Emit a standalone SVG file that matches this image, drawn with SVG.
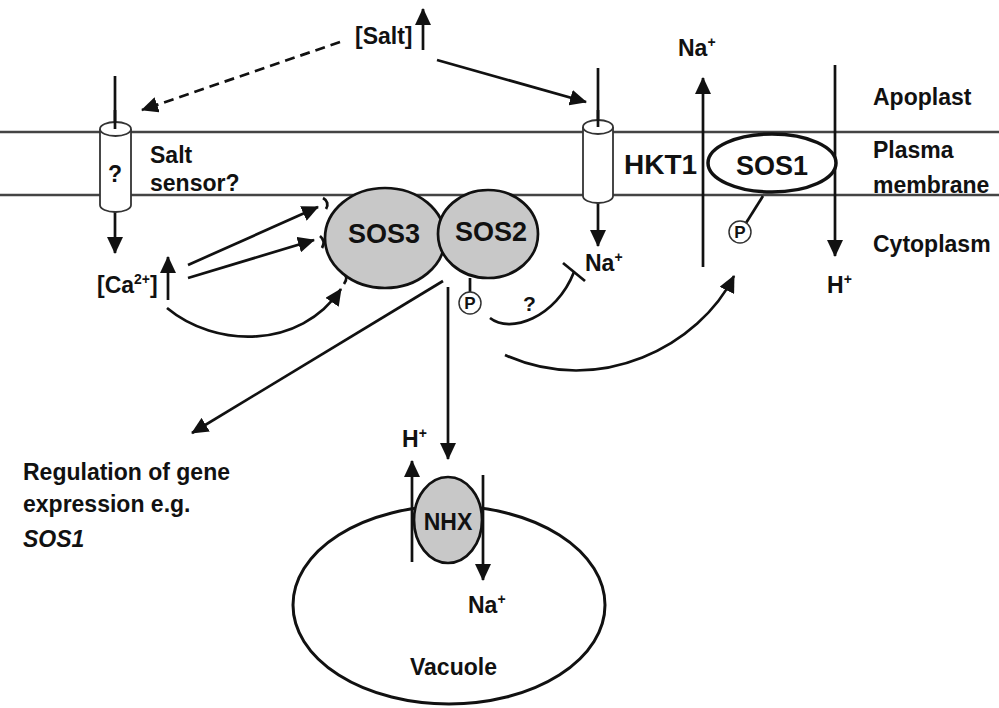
<svg xmlns="http://www.w3.org/2000/svg" width="999" height="708" viewBox="0 0 999 708">
<defs>
<marker id="ah" markerUnits="userSpaceOnUse" markerWidth="18" markerHeight="16" refX="16" refY="8" orient="auto">
<path d="M0,0 L17,8 L0,16 z" fill="#111"/>
</marker>
<style>
text{font-family:"Liberation Sans",Arial,sans-serif;font-weight:bold;fill:#111;font-size:23px}
.big{font-size:27px}
.hk{font-size:28px}
.q{font-size:21px}
.it{font-style:italic}
.sup{font-size:14px}
.mem{stroke:#444;stroke-width:2.5;fill:none}
.ln{stroke:#111;stroke-width:2.7;fill:none}
.arr{stroke:#111;stroke-width:2.7;fill:none;marker-end:url(#ah)}
.prot{fill:#c8c8c8;stroke:#111;stroke-width:2.7}
.chan{fill:#fff;stroke:#333;stroke-width:1.8}
.pc{fill:#fff;stroke:#333;stroke-width:1.5}
.ptxt{font-size:17px}
</style>
</defs>
<rect width="999" height="708" fill="#fff"/>

<g id="membrane">
<line class="mem" x1="0" y1="132" x2="999" y2="132"/>
<line class="mem" x1="0" y1="195" x2="999" y2="195"/>
</g>

<g id="vacuole">
<ellipse cx="449" cy="605" rx="156" ry="99" fill="#fff" stroke="#111" stroke-width="3"/>
<text x="410" y="675">Vacuole</text>
</g>

<g id="connectors">
<line class="arr" x1="340" y1="42" x2="142" y2="110" stroke-dasharray="10,6"/>
<line class="arr" x1="437" y1="60" x2="586" y2="102"/>
<line class="arr" x1="423" y1="50" x2="423" y2="9"/>
<line class="ln" x1="115" y1="76" x2="115" y2="129"/>
<line class="arr" x1="115" y1="212" x2="115" y2="253"/>
<line class="ln" x1="598" y1="68" x2="598" y2="127"/>
<line class="arr" x1="598" y1="203" x2="598" y2="246"/>
<line class="arr" x1="703" y1="267" x2="703" y2="78"/>
<line class="arr" x1="835" y1="65" x2="835" y2="256"/>
<line class="arr" x1="168" y1="300" x2="168" y2="257"/>
<line class="arr" x1="188" y1="265" x2="318" y2="207"/>
<line class="arr" x1="188" y1="278" x2="314" y2="240"/>
<path class="arr" d="M167,308 C215,348 300,350 341,289"/>
<path class="ln" d="M323,198 q7,4 3,11" stroke-width="1.5"/>
<path class="ln" d="M320,236 q6,5 2,12" stroke-width="1.5"/>
<path class="ln" d="M343,272 q6,5 1,12" stroke-width="1.5"/>
<line class="arr" x1="443" y1="281" x2="192" y2="433"/>
<line class="arr" x1="448" y1="287" x2="448" y2="459"/>
<path class="ln" d="M490,318 C510,334 556,318 574,272"/>
<line class="ln" x1="563" y1="263" x2="585" y2="281"/>
<path class="arr" d="M505,355 C600,398 700,345 734,276"/>
<line class="ln" x1="470" y1="278" x2="470" y2="292" stroke-width="1.5"/>
<line class="ln" x1="763" y1="196" x2="746" y2="223" stroke-width="1.8"/>
<line class="arr" x1="412" y1="562" x2="412" y2="461"/>
<line class="arr" x1="483" y1="475" x2="483" y2="580"/>
</g>

<g id="sensor">
<path class="chan" d="M100,129 L100,205 A15.5,7 0 0 0 131,205 L131,129"/>
<ellipse class="chan" cx="115.5" cy="129" rx="15.5" ry="7"/>
<line class="ln" x1="115" y1="110" x2="115" y2="129"/>
<text x="115" y="182" text-anchor="middle">?</text>
<text x="150" y="163">Salt</text>
<text x="150" y="191">sensor?</text>
</g>

<g id="hkt1">
<path class="chan" d="M583,127 L583,196 A15,7 0 0 0 613,196 L613,127"/>
<ellipse class="chan" cx="598" cy="127" rx="15" ry="7"/>
<line class="ln" x1="598" y1="110" x2="598" y2="127"/>
<text class="hk" x="624" y="174">HKT1</text>
</g>

<g id="sos1">
<ellipse cx="772" cy="163" rx="64" ry="29" fill="#fff" stroke="#111" stroke-width="3.5"/>
<text class="big" x="772" y="175" text-anchor="middle">SOS1</text>
<circle class="pc" cx="740" cy="232" r="11"/>
<text class="ptxt" x="740" y="238" text-anchor="middle">P</text>
</g>

<g id="sos3">
<ellipse class="prot" cx="385" cy="238" rx="60" ry="50"/>
<text class="big" x="384" y="243" text-anchor="middle">SOS3</text>
</g>

<g id="sos2">
<ellipse class="prot" cx="488" cy="234" rx="50" ry="44"/>
<text class="big" x="491" y="241" text-anchor="middle">SOS2</text>
<circle class="pc" cx="470" cy="303" r="11"/>
<text class="ptxt" x="470" y="309" text-anchor="middle">P</text>
</g>

<g id="nhx">
<ellipse class="prot" cx="448" cy="520" rx="34" ry="43"/>
<text x="448" y="530" text-anchor="middle">NHX</text>
</g>

<g id="labels">
<text x="355" y="44">[Salt]</text>
<text x="678" y="56">Na<tspan class="sup" dy="-9">+</tspan></text>
<text x="585" y="271">Na<tspan class="sup" dy="-9">+</tspan></text>
<text x="97" y="293">[Ca<tspan class="sup" dy="-9">2+</tspan><tspan dy="9">]</tspan></text>
<text class="q" x="523" y="311">?</text>
<text x="827" y="293">H<tspan class="sup" dy="-9">+</tspan></text>
<text x="402" y="447">H<tspan class="sup" dy="-9">+</tspan></text>
<text x="468" y="613">Na<tspan class="sup" dy="-9">+</tspan></text>
<text x="873" y="105">Apoplast</text>
<text x="873" y="158">Plasma</text>
<text x="873" y="193">membrane</text>
<text x="873" y="252">Cytoplasm</text>
<text x="23" y="480">Regulation of gene</text>
<text x="23" y="512">expression e.g.</text>
<text class="it" x="23" y="547">SOS1</text>
</g>
</svg>
